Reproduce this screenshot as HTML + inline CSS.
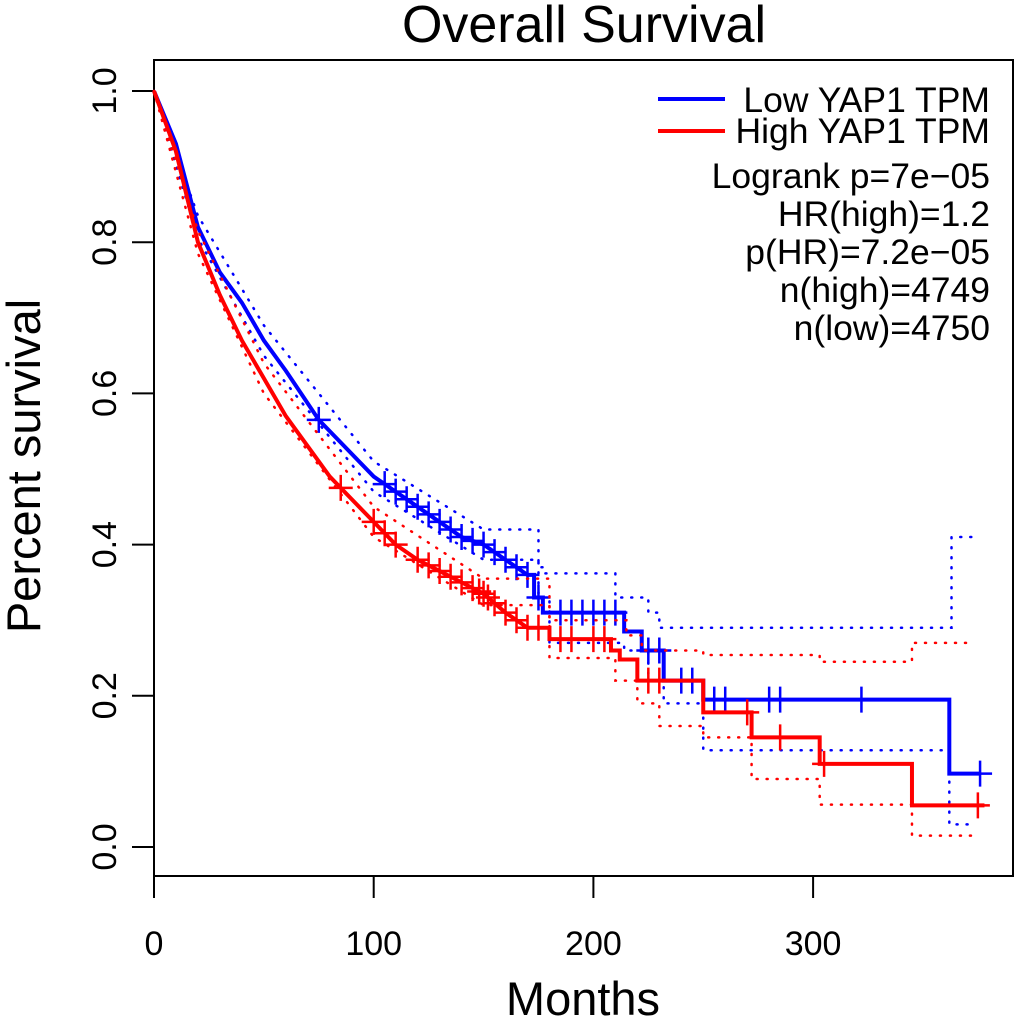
<!DOCTYPE html>
<html><head><meta charset="utf-8"><style>
body{margin:0;background:#fff}
svg{display:block;font-family:"Liberation Sans",Arial,sans-serif}
</style></head><body>
<svg id="chart" width="1020" height="1024" viewBox="0 0 1020 1024">
<text x="584" y="42" font-size="52" text-anchor="middle">Overall Survival</text>
<rect x="154" y="60" width="859" height="816" fill="none" stroke="#000" stroke-width="2"/>
<g id="axes"></g>
<g id="series"></g>
<text x="583" y="1015" font-size="47" text-anchor="middle">Months</text>
<text transform="translate(40,466) rotate(-90)" font-size="47" text-anchor="middle">Percent survival</text>
<g>
<line x1="658" y1="99" x2="725" y2="99" stroke="#0000ff" stroke-width="4"/>
<line x1="658" y1="131" x2="725" y2="131" stroke="#ff0000" stroke-width="4"/>
<g font-size="35.5" text-anchor="end">
<text x="990" y="112">Low YAP1 TPM</text>
<text x="990" y="143">High YAP1 TPM</text>
<text x="990" y="188">Logrank p=7e−05</text>
<text x="990" y="226">HR(high)=1.2</text>
<text x="990" y="264">p(HR)=7.2e−05</text>
<text x="990" y="302">n(high)=4749</text>
<text x="990" y="340">n(low)=4750</text>
</g></g>
</svg>
<script>
const xTicks=[0,100,200,300];
const yTicks=[0.0,0.2,0.4,0.6,0.8,1.0];
const lowT=[0,10,20,30,40,50,60,75,90,100,110,120,130,140,150,160,170,173,177,214,222,232,250,362,376];
const lowS=[1,0.93,0.82,0.76,0.72,0.67,0.63,0.565,0.52,0.49,0.47,0.45,0.43,0.41,0.40,0.38,0.36,0.33,0.31,0.285,0.26,0.22,0.195,0.097,0.097];
const lowUpT=[0,20,50,100,150,175,177,210,225,230,363,372];
const lowUp=[1,0.835,0.69,0.51,0.42,0.37,0.362,0.33,0.31,0.29,0.41,0.41];
const lowLoT=[0,20,50,100,150,175,180,214,225,232,250,362,372];
const lowLo=[1,0.805,0.65,0.47,0.38,0.33,0.27,0.26,0.22,0.19,0.128,0.03,0.03];
const highT=[0,10,20,30,40,50,60,70,80,90,100,110,120,130,140,150,160,170,180,208,212,220,250,272,303,345,378];
const highS=[1,0.92,0.80,0.73,0.67,0.62,0.57,0.53,0.49,0.46,0.43,0.40,0.38,0.365,0.35,0.335,0.31,0.29,0.275,0.26,0.248,0.22,0.178,0.145,0.11,0.055,0.055];
const highUpT=[0,20,50,100,150,180,205,215,222,250,303,345,372];
const highUp=[1,0.815,0.64,0.45,0.355,0.30,0.30,0.28,0.26,0.254,0.245,0.27,0.27];
const highLoT=[0,20,50,100,150,180,210,220,230,250,272,303,345,375];
const highLo=[1,0.785,0.60,0.41,0.32,0.25,0.22,0.19,0.16,0.145,0.09,0.056,0.015,0.015];
const lowCensT=[75,105,110,115,120,125,130,135,140,145,150,155,160,165,170,175,185,190,195,200,205,210,225,230,240,245,255,260,280,285,322,376];
const highCensT=[85,100,105,110,120,125,130,135,140,145,148,150,152,155,160,165,170,175,185,190,200,205,225,230,270,285,305,375];
const smoothUntil=172;
const NS="http://www.w3.org/2000/svg";
const X=m=>154+m*2.197, Y=s=>847-s*756;
const ax=document.getElementById('axes'), se=document.getElementById('series');
function mk(p,tag,a){const e=document.createElementNS(NS,tag);for(const k in a)e.setAttribute(k,a[k]);p.appendChild(e);return e;}
xTicks.forEach(t=>{
 const l=mk(ax,'line',{x1:X(t),x2:X(t),y1:876,y2:898,stroke:'#000','stroke-width':2});
 
 
 const tx=mk(ax,'text',{x:X(t),y:955,'font-size':34,'text-anchor':'middle'});tx.textContent=t;
 
 
});
yTicks.forEach(t=>{
 const l=mk(ax,'line',{x1:132,x2:154,y1:Y(t),y2:Y(t),stroke:'#000','stroke-width':2});
 
 
 const tx=mk(ax,'text',{transform:`translate(116,${Y(t)}) rotate(-90)`,'font-size':34,'text-anchor':'middle'});tx.textContent=t.toFixed(1);
 
 
});
function stepPath(T,S){let d=`M${X(T[0])},${Y(S[0])}`;for(let i=1;i<T.length;i++){
 if(T[i]<=smoothUntil) d+=`L${X(T[i])},${Y(S[i])}`; else d+=`H${X(T[i])}V${Y(S[i])}`;}return d;}
function valAt(T,S,t){for(let i=1;i<T.length;i++){if(T[i]>=t){
 if(T[i]<=smoothUntil){const f=(t-T[i-1])/(T[i]-T[i-1]);return S[i-1]+f*(S[i]-S[i-1]);}
 return T[i]===t?S[i]:S[i-1];}}return S[S.length-1];}
function series(T,S,U,UT,L,LT,C,col,name){
 const up=mk(se,'path',{d:stepPath(UT,U),fill:'none',stroke:col,'stroke-width':2.5,'stroke-dasharray':'1 9','stroke-linecap':'round'});
 
 
 const lo=mk(se,'path',{d:stepPath(LT,L),fill:'none',stroke:col,'stroke-width':2.5,'stroke-dasharray':'1 9','stroke-linecap':'round'});
 
 
 const p=mk(se,'path',{d:stepPath(T,S),fill:'none',stroke:col,'stroke-width':4});
 
 
 C.forEach(t=>{const x=X(t),y=Y(valAt(T,S,t));
  const c=mk(se,'path',{d:`M${x-12},${y}H${x+12}M${x},${y-13}V${y+13}`,stroke:col,'stroke-width':2.5});
  
  
 });
}
series(lowT,lowS,lowUp,lowUpT,lowLo,lowLoT,lowCensT,'#0000ff','low');
series(highT,highS,highUp,highUpT,highLo,highLoT,highCensT,'#ff0000','high');
</script>
</body></html>
